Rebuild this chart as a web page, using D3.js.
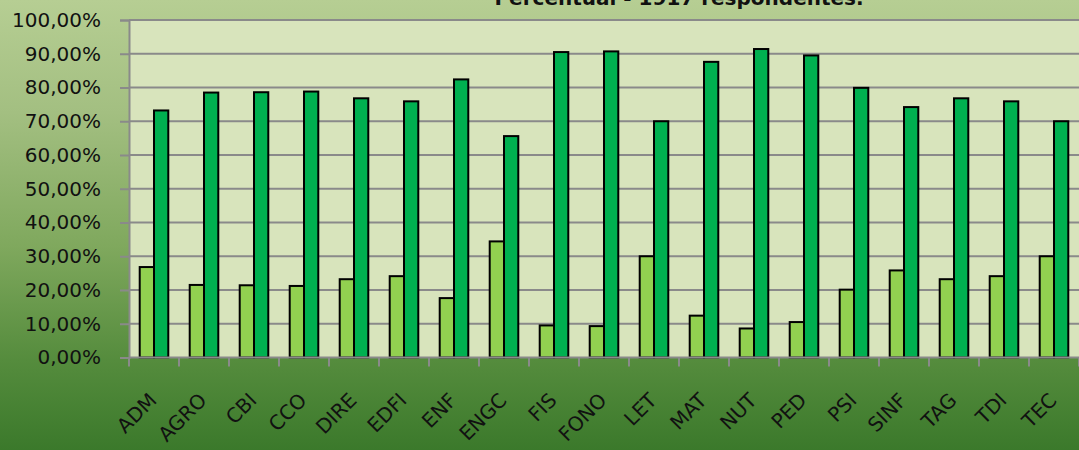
<!DOCTYPE html>
<html>
<head>
<meta charset="utf-8">
<script src="https://cdn.jsdelivr.net/npm/d3@7"></script>
<style>
  html, body { margin: 0; padding: 0; background: #ffffff; }
  svg { display: block; }
</style>
</head>
<body>
<div id="chart"></div>
<script>
// data
var cursos = ["ADM", "AGRO", "CBI", "CCO", "DIRE", "EDFI", "ENF", "ENGC", "FIS", "FONO",
  "LET", "MAT", "NUT", "PED", "PSI", "SINF", "TAG", "TDI", "TEC"];
var serieClara = [26.8, 21.5, 21.4, 21.2, 23.2, 24.1, 17.6, 34.4, 9.5, 9.3,
  30.0, 12.4, 8.6, 10.5, 20.1, 25.8, 23.2, 24.1, 30.0];
var serieEscura = [73.2, 78.5, 78.6, 78.8, 76.8, 75.9, 82.4, 65.6, 90.5, 90.7,
  70.0, 87.6, 91.4, 89.5, 79.9, 74.2, 76.8, 75.9, 70.0];
var yTicks = [0, 0.1, 0.2, 0.3, 0.4, 0.5, 0.6, 0.7, 0.8, 0.9, 1];
var titulo = "Percentual - 1917 respondentes.";

var width = 1079, height = 450;
var plot = { left: 129, right: 1079, top: 20, bottom: 357.5 };

var rows = cursos.map((c, i) => ({ curso: c, clara: serieClara[i] / 100, escura: serieEscura[i] / 100 }));
var series = [
  { key: "clara", color: "#92d050" },
  { key: "escura", color: "#00b050" }
];

var ptBR = d3.formatLocale({ decimal: ",", thousands: ".", grouping: [3], currency: ["R$", ""] });
var pct = ptBR.format(".2%");

var svg = d3.select("#chart").append("svg")
  .attr("width", width)
  .attr("height", height);

// background gradient of the chart area
var defs = svg.append("defs");
var grad = defs.append("linearGradient")
  .attr("id", "bg").attr("x1", 0).attr("y1", 0).attr("x2", 0).attr("y2", 1);
grad.append("stop").attr("offset", "0%").attr("stop-color", "#b6ce93");
grad.append("stop").attr("offset", "25%").attr("stop-color", "#a3bf81");
grad.append("stop").attr("offset", "55%").attr("stop-color", "#7fa85d");
grad.append("stop").attr("offset", "80%").attr("stop-color", "#558c3d");
grad.append("stop").attr("offset", "100%").attr("stop-color", "#3b792b");

svg.append("rect")
  .attr("width", width).attr("height", height)
  .attr("fill", "url(#bg)");

// scales
var x = d3.scaleBand()
  .domain(cursos)
  .range([plot.left, plot.right])
  .padding(0);

// gap width of 150% between the pairs
var barW = x.bandwidth() / 3.5;
var x1 = d3.scaleBand()
  .domain(series.map(s => s.key))
  .range([barW * 0.75, x.bandwidth() - barW * 0.75])
  .padding(0);

var y = d3.scaleLinear()
  .domain([0, 1])
  .range([plot.bottom, plot.top]);

// plot area
svg.append("rect")
  .attr("x", plot.left).attr("y", plot.top)
  .attr("width", plot.right - plot.left)
  .attr("height", plot.bottom - plot.top)
  .attr("fill", "#d8e4bc");

// y axis with gridlines
var yAxis = d3.axisLeft(y)
  .tickValues(yTicks)
  .tickFormat(pct)
  .tickSize(9)
  .tickPadding(19);

var gy = svg.append("g")
  .attr("class", "y axis")
  .attr("transform", `translate(${plot.left},0)`)
  .call(yAxis);
gy.select(".domain").attr("stroke", "#8a8a8a").attr("stroke-width", 2);
gy.selectAll(".tick line").attr("stroke", "#8a8a8a").attr("stroke-width", 2);
gy.selectAll(".tick text")
  .attr("fill", "#111")
  .style("font-family", "DejaVu Sans")
  .style("font-size", "20px");

svg.append("g").attr("class", "grid")
  .selectAll("line")
  .data(yTicks.filter(d => d > 0))
  .enter().append("line")
  .attr("x1", plot.left).attr("x2", plot.right)
  .attr("y1", d => y(d)).attr("y2", d => y(d))
  .attr("stroke", "#8a8a8a")
  .attr("stroke-width", 2);

// bars
var groups = svg.append("g").attr("class", "bars")
  .selectAll("g")
  .data(rows)
  .enter().append("g")
  .attr("transform", d => `translate(${x(d.curso)},0)`);

groups.selectAll("rect")
  .data(d => series.map(s => ({ key: s.key, color: s.color, value: d[s.key] })))
  .enter().append("rect")
  .attr("x", d => x1(d.key))
  .attr("y", d => y(d.value))
  .attr("width", x1.bandwidth())
  .attr("height", d => y(0) - y(d.value))
  .attr("fill", d => d.color)
  .attr("stroke", "#000")
  .attr("stroke-width", 2);

// x axis: line, boundary ticks and rotated labels
var gx = svg.append("g").attr("class", "x axis");
gx.append("line")
  .attr("x1", plot.left).attr("x2", plot.right)
  .attr("y1", y(0)).attr("y2", y(0))
  .attr("stroke", "#8a8a8a").attr("stroke-width", 2);

var bounds = cursos.map(c => x(c)).concat([x(cursos[cursos.length - 1]) + x.bandwidth()]);
gx.selectAll(".bound")
  .data(bounds)
  .enter().append("line")
  .attr("class", "bound")
  .attr("x1", d => d).attr("x2", d => d)
  .attr("y1", y(0)).attr("y2", y(0) + 9)
  .attr("stroke", "#8a8a8a").attr("stroke-width", 2);

gx.selectAll(".lbl")
  .data(cursos)
  .enter().append("text")
  .attr("class", "lbl")
  .attr("transform", d => `translate(${x(d) + x.bandwidth() / 2 + 4},${y(0) + 44}) rotate(-45)`)
  .attr("text-anchor", "end")
  .attr("fill", "#111")
  .style("font-family", "DejaVu Sans")
  .style("font-size", "20px")
  .text(d => d);

// title, cut at the top edge as in the picture
svg.append("text")
  .attr("x", 679)
  .attr("y", 5)
  .attr("text-anchor", "middle")
  .attr("fill", "#111")
  .style("font-family", "DejaVu Sans")
  .style("font-weight", "bold")
  .style("font-size", "20px")
  .text(titulo);
</script>
</body>
</html>
